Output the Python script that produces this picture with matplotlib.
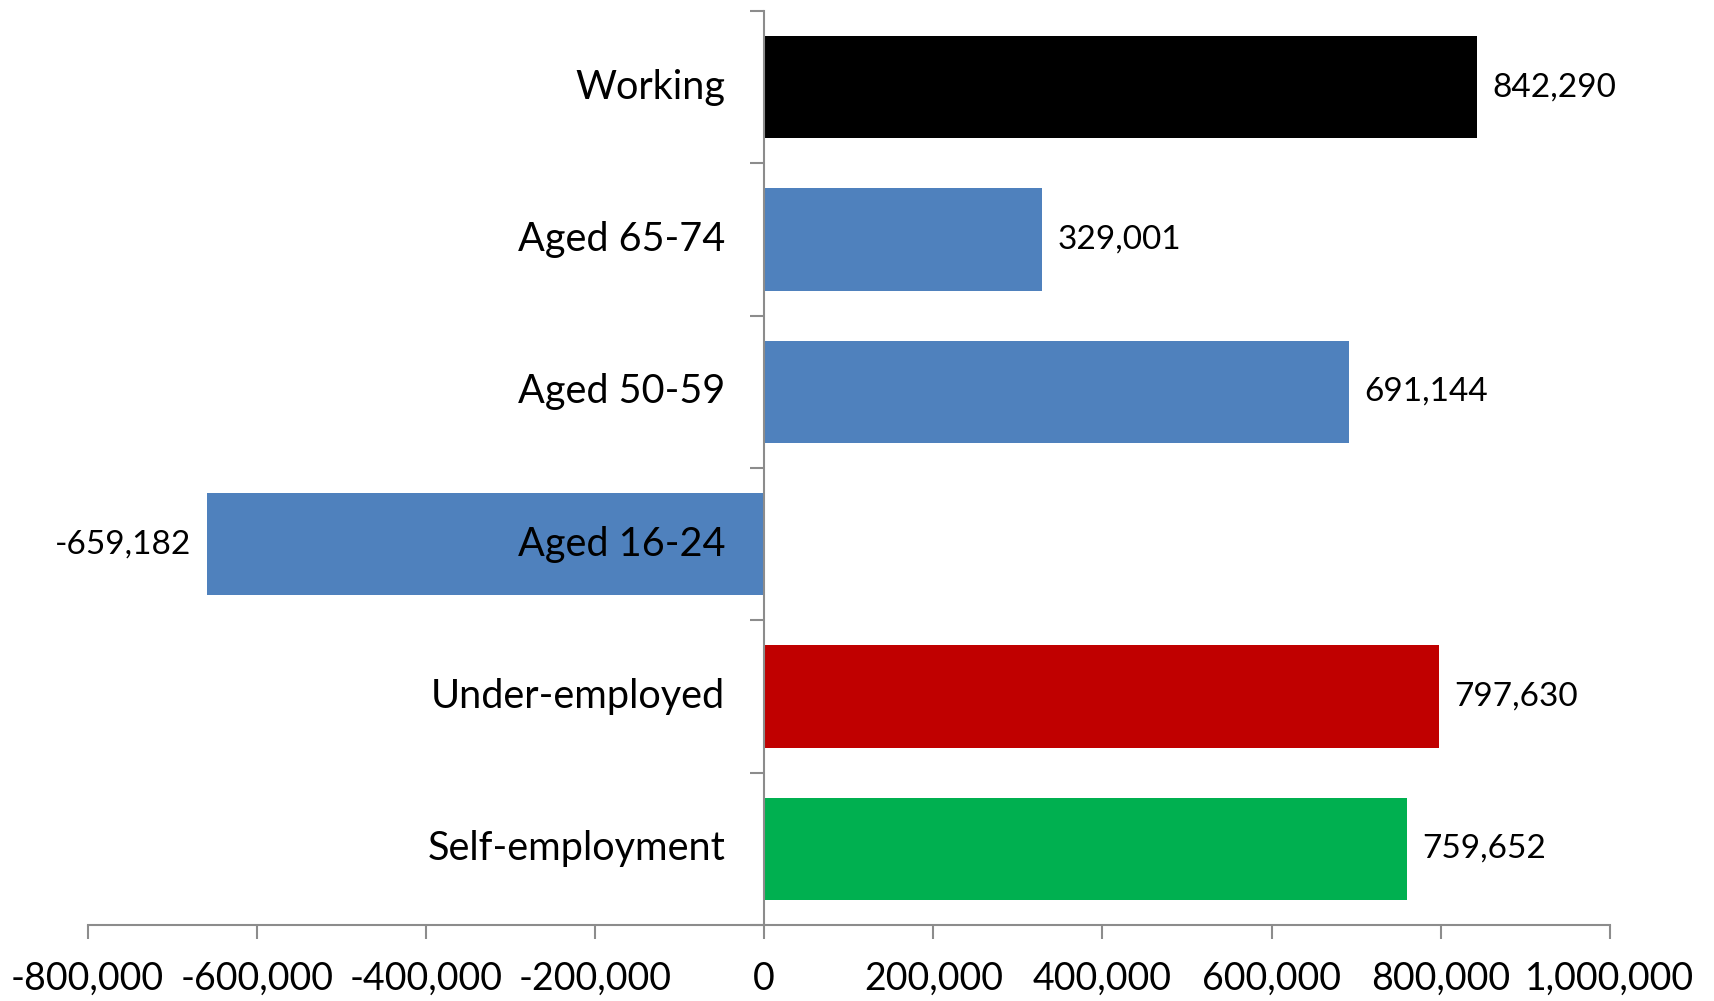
import numpy as np
import matplotlib
matplotlib.use("Agg")
import matplotlib.pyplot as plt
from matplotlib.ticker import FuncFormatter, FixedLocator

# Daten
kategorien = ["Working", "Aged 65-74", "Aged 50-59", "Aged 16-24", "Under-employed", "Self-employment"]
werte = [842290, 329001, 691144, -659182, 797630, 759652]
farben = ["#000000", "#4F81BD", "#4F81BD", "#4F81BD", "#C00000", "#00B050"]
x_ticks = [-800000, -600000, -400000, -200000, 0, 200000, 400000, 600000, 800000, 1000000]

plt.rcParams['font.family'] = ['Lato', 'DejaVu Sans']
achsen_grau = "#8C8C8C"

fig = plt.figure(figsize=(17.15, 10.01), dpi=100)
ax = fig.add_axes([87.5 / 1715, 1 - 925 / 1001, (1610 - 87.5) / 1715, (925 - 11) / 1001])

pos = np.arange(len(kategorien))
ax.barh(pos, werte, height=0.67, color=farben, zorder=2)

ax.set_xlim(-800000, 1000000)
ax.set_ylim(len(kategorien) - 0.5, -0.5)

# Achsen
for s in ['top', 'right']:
    ax.spines[s].set_visible(False)
ax.spines['left'].set_position(('data', 0))
ax.spines['left'].set_color(achsen_grau)
ax.spines['bottom'].set_color(achsen_grau)
ax.spines['left'].set_linewidth(1.5)
ax.spines['bottom'].set_linewidth(1.5)
ax.spines['left'].set_zorder(3)

ax.set_xticks(x_ticks)
ax.xaxis.set_major_formatter(FuncFormatter(lambda v, p: f"{int(v):,}"))
ax.tick_params(axis='x', direction='out', length=10, width=1.5, color=achsen_grau,
               labelsize=27, pad=16)

# y: Labels ohne Striche, Striche an den Kategoriegrenzen
ax.set_yticks(pos)
ax.set_yticklabels([])
ax.tick_params(axis='y', which='major', length=0)
ax.yaxis.set_minor_locator(FixedLocator(np.arange(-0.5, len(kategorien), 1.0)))
ax.tick_params(axis='y', which='minor', direction='out', length=10, width=1.5, color=achsen_grau)

for i, k in enumerate(kategorien):
    ax.annotate(k, xy=(0, i), xycoords='data', xytext=(-28, 0), textcoords='offset points',
                ha='right', va='center', fontsize=28.5, zorder=4)

# Wertelabels
for i, w in enumerate(werte):
    if w >= 0:
        ax.annotate(f"{w:,}", xy=(w, i), xytext=(11, 0), textcoords='offset points',
                    ha='left', va='center', fontsize=24)
    else:
        ax.annotate(f"{w:,}", xy=(w, i), xytext=(-11, 0), textcoords='offset points',
                    ha='right', va='center', fontsize=24)

fig.savefig("out.png", dpi=100)
